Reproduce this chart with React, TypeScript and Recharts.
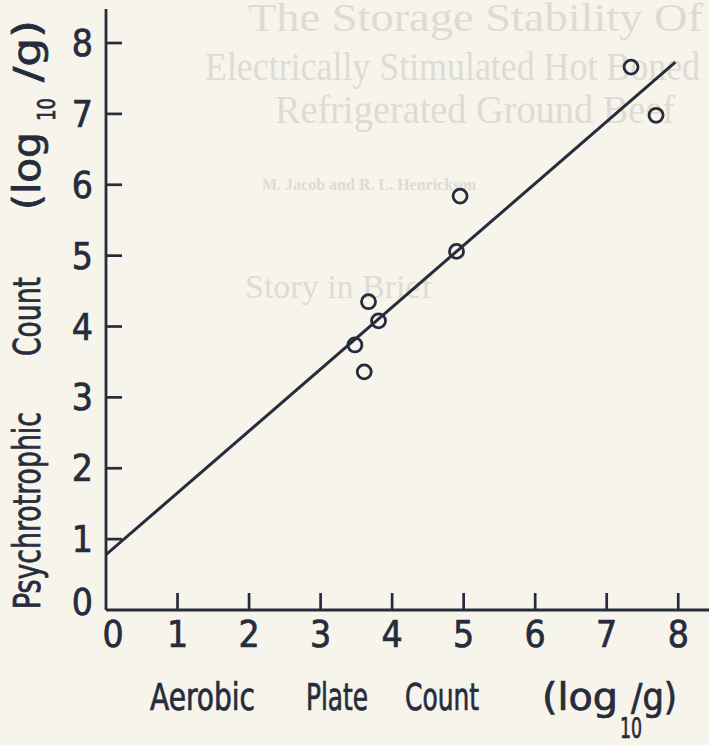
import React from "react";
import { ComposedChart, Scatter, XAxis, YAxis } from "recharts";

// Observations: aerobic plate count vs psychrotrophic count (log10/g)
const aerobicCounts = [7.34, 7.69, 4.95, 4.9, 3.67, 3.81, 3.48, 3.61];
const psychroCounts = [7.66, 6.98, 5.84, 5.06, 4.35, 4.08, 3.74, 3.36];

// Fitted regression line end points
const fitX = [0, 7.96];
const fitY = [0.78, 7.73];

const xTicks = [0, 1, 2, 3, 4, 5, 6, 7, 8];
const yTicks = [0, 1, 2, 3, 4, 5, 6, 7, 8];

const points = aerobicCounts.map((x, i) => ({ x, y: psychroCounts[i] }));
const fitLine = fitX.map((x, i) => ({ x, y: fitY[i] }));

const INK = "#262c3b";
const BG = "#f7f4ec";
const FAINT = "#dedbd3";
const FONT =
  "'Liberation Sans Narrow', 'DejaVu Sans Condensed', 'Arial Narrow', sans-serif";
const BOLDEN = { stroke: INK, strokeWidth: 0.7 };

const XTick = (props: any) => {
  const { x, y, payload } = props;
  const v = payload.value;
  return (
    <g>
      {v !== 0 && (
        <line x1={x} y1={y} x2={x} y2={y - 17} stroke={INK} strokeWidth={2.7} />
      )}
      <text
        x={x + (v === 0 ? 7 : 0)}
        y={y + 37}
        textAnchor="middle"
        fontSize={37}
        fontFamily={FONT}
        fill={INK}
        {...BOLDEN}
      >
        {v}
      </text>
    </g>
  );
};

const YTick = (props: any) => {
  const { x, y, payload } = props;
  const v = payload.value;
  return (
    <g>
      {v !== 0 && (
        <line x1={x} y1={y} x2={x + 16} y2={y} stroke={INK} strokeWidth={2.7} />
      )}
      <text
        x={x - 13}
        y={y + 13 - (v === 0 ? 8 : 0)}
        textAnchor="end"
        fontSize={37}
        fontFamily={FONT}
        fill={INK}
        {...BOLDEN}
      >
        {v}
      </text>
    </g>
  );
};

const XTitle = (props: any) => {
  const vb = props.viewBox || { x: 106, y: 610 };
  const base = vb.y + 100;
  const ox = vb.x;
  const t = { fontSize: 37, fontFamily: FONT, fill: INK, lengthAdjust: "spacingAndGlyphs" as any, ...BOLDEN };
  return (
    <g>
      <text x={ox + 44} y={base} textLength={105} {...t}>Aerobic</text>
      <text x={ox + 200} y={base} textLength={62} {...t}>Plate</text>
      <text x={ox + 299} y={base} textLength={74} {...t}>Count</text>
      <text x={ox + 436} y={base} textLength={76} {...t}>(log</text>
      <text x={ox + 514} y={base + 28} textLength={22} {...t} fontSize={28}>10</text>
      <text x={ox + 525} y={base} textLength={46} {...t}>/g)</text>
    </g>
  );
};

const YTitle = (props: any) => {
  const vb = props.viewBox || { x: 0, y: 9 };
  const bx = vb.x + 40;
  const t = { fontSize: 37, fontFamily: FONT, fill: INK, lengthAdjust: "spacingAndGlyphs" as any, ...BOLDEN };
  return (
    <g transform={`translate(${bx}, 0) rotate(-90)`}>
      <text x={-609} y={0} textLength={197} {...t}>Psychrotrophic</text>
      <text x={-356} y={0} textLength={79} {...t}>Count</text>
      <text x={-210} y={0} textLength={78} {...t}>(log</text>
      <text x={-121} y={15} textLength={23} {...t} fontSize={25}>10</text>
      <text x={-82} y={0} textLength={62} {...t}>/g)</text>
    </g>
  );
};

const Ring = (props: any) => {
  const { cx, cy } = props;
  return <circle cx={cx} cy={cy} r={7} fill="none" stroke={INK} strokeWidth={2.8} />;
};

const Nothing = () => <g />;

export default function App() {
  return (
    <div
      style={{
        position: "absolute",
        left: 0,
        top: 0,
        width: 709,
        height: 745,
        overflow: "hidden",
        background: BG,
      }}
    >
      <svg
        width={709}
        height={745}
        style={{ position: "absolute", left: 0, top: 0 }}
      >
        <g fontFamily="'Liberation Serif', 'DejaVu Serif', serif" fill={FAINT}>
          <text x={248} y={31} fontSize={40} textLength={455} lengthAdjust="spacingAndGlyphs">The Storage Stability Of</text>
          <text x={205} y={80} fontSize={40} textLength={495} lengthAdjust="spacingAndGlyphs">Electrically Stimulated Hot Boned</text>
          <text x={275} y={123} fontSize={40} textLength={400} lengthAdjust="spacingAndGlyphs">Refrigerated Ground Beef</text>
          <text x={262} y={190} fontSize={16} fontWeight="bold">M. Jacob and R. L. Henrickson</text>
          <text x={245} y={298} fontSize={34}>Story in Brief</text>
        </g>
      </svg>
      <div style={{ position: "absolute", left: 0, top: 0 }}>
        <ComposedChart
          width={709}
          height={745}
          margin={{ top: 9, right: 0, bottom: 0, left: 0 }}
        >
          <XAxis
            type="number"
            dataKey="x"
            domain={[0, 8.43]}
            ticks={xTicks}
            interval={0}
            allowDataOverflow
            height={135}
            tickSize={0}
            tickMargin={0}
            tickLine={false}
            tick={<XTick />}
            axisLine={{ stroke: INK, strokeWidth: 2.8 }}
            label={<XTitle />}
          />
          <YAxis
            type="number"
            dataKey="y"
            domain={[0, 8.48]}
            ticks={yTicks}
            interval={0}
            allowDataOverflow
            width={106}
            tickSize={0}
            tickMargin={0}
            tickLine={false}
            tick={<YTick />}
            axisLine={{ stroke: INK, strokeWidth: 2.8 }}
            label={<YTitle />}
          />
          <Scatter
            data={fitLine}
            line={{ stroke: INK, strokeWidth: 3 }}
            shape={<Nothing />}
            isAnimationActive={false}
            legendType="none"
          />
          <Scatter
            data={points}
            shape={<Ring />}
            isAnimationActive={false}
            legendType="none"
          />
        </ComposedChart>
      </div>
    </div>
  );
}
